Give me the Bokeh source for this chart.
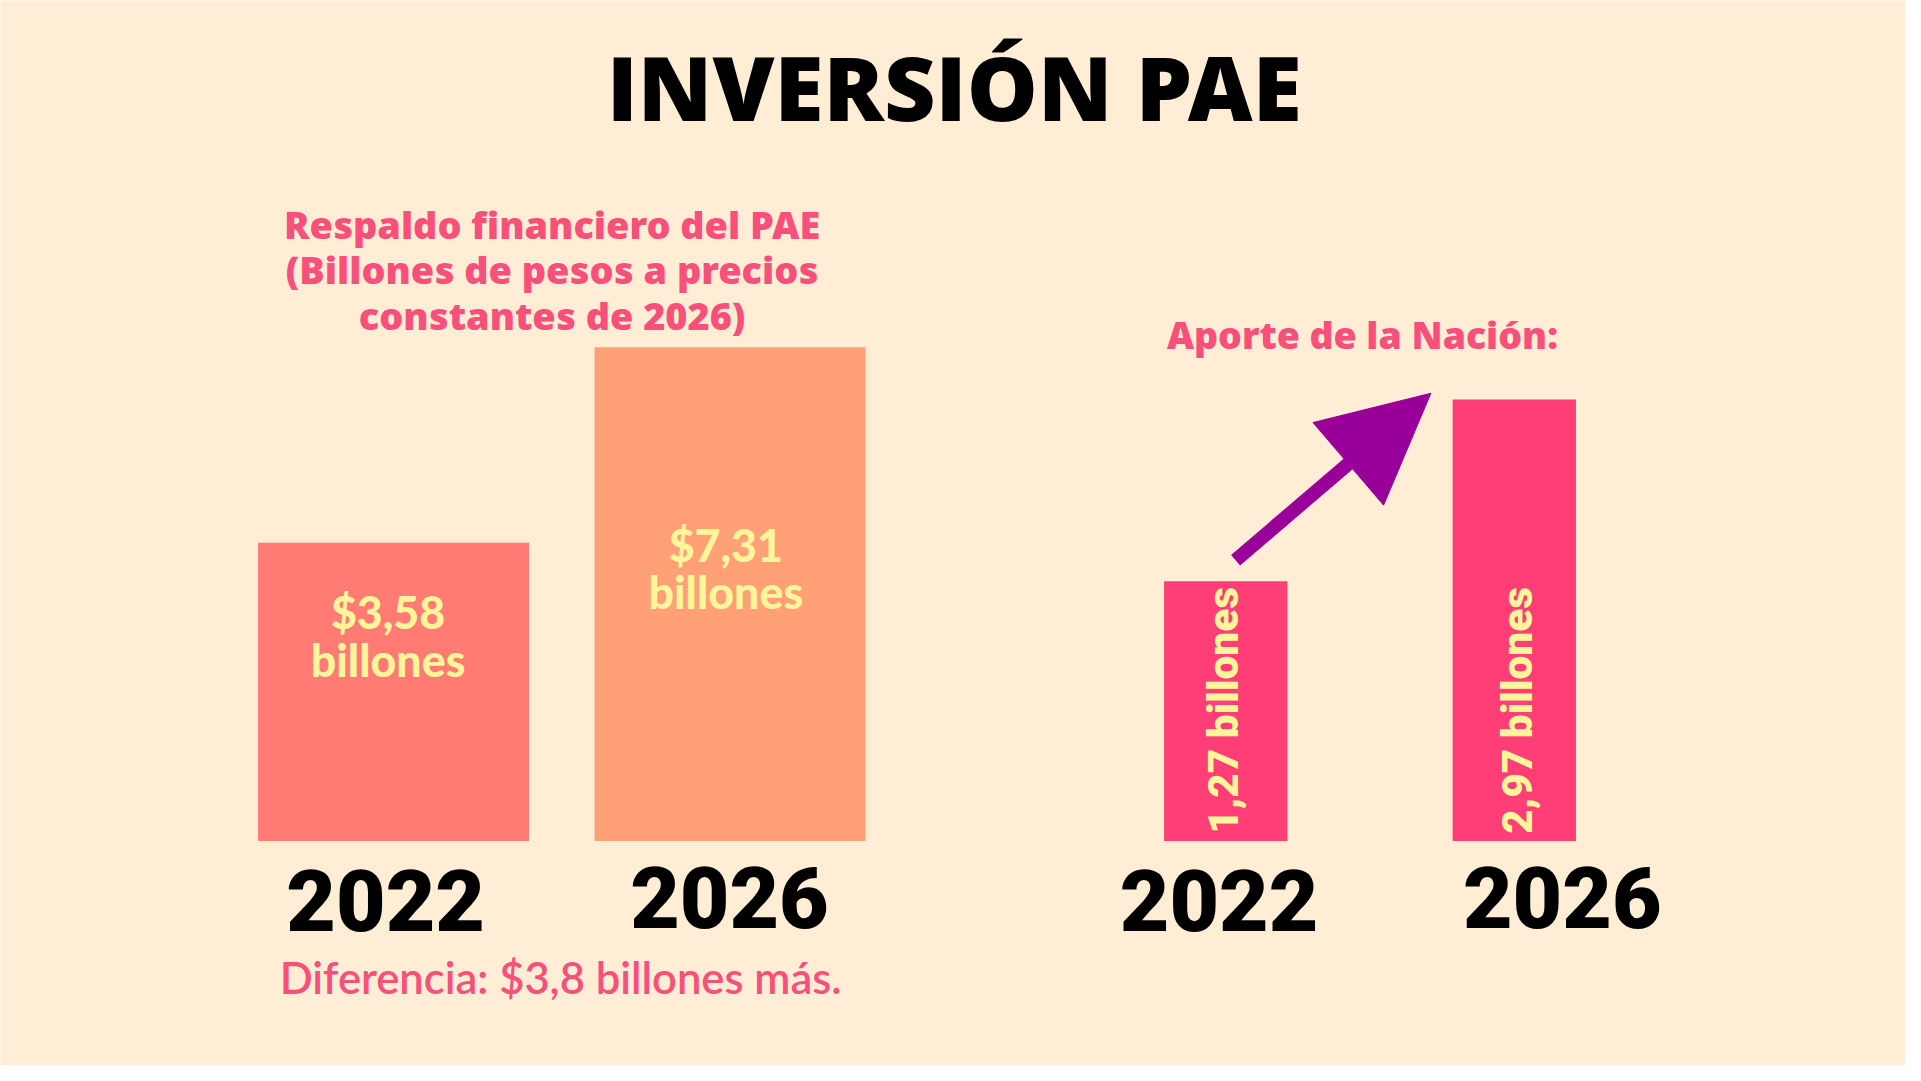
from bokeh.plotting import figure
from bokeh.models import Range1d, Arrow, NormalHead
from bokeh.core.properties import value
from bokeh.embed import file_html
from bokeh.resources import INLINE

# datos
anios = ["2022", "2026"]
respaldo_pae = [3.58, 7.31]      # billones de pesos constantes de 2026
aporte_nacion = [1.27, 2.97]     # billones
titulo = "INVERSIÓN PAE"
subtitulo = ["Respaldo financiero del PAE", "(Billones de pesos a precios", "constantes de 2026)"]
titulo_aporte = "Aporte de la Nación:"
diferencia = "Diferencia: $3,8 billones más."

# lienzo: unidades de la imagen de referencia (1568 x 882)
W, H = 1905, 1065
AW, AH = 1568, 882
k = H / AH

FONDO = "#FFEDD5"
ROSA = "#F94F7B"
AMARILLO = "#FFF59A"

p = figure(width=W, height=H, x_range=Range1d(0, AW), y_range=Range1d(0, AH),
           x_axis_location=None, y_axis_location=None, toolbar_location=None,
           output_backend="svg", min_border=0)
p.grid.visible = False
p.outline_line_color = None
p.background_fill_color = FONDO
p.border_fill_color = FONDO

def fy(d):
    # posición vertical desde arriba -> coordenada del lienzo
    return AH - d

base_px = fy(696)

# escala de cada grafica (las barras no estan a escala desde cero)
def escalas(nombre, c0, c1, ppu, piso):
    u = c1 - c0
    p.extra_x_ranges[nombre] = Range1d(-c0 / u, (AW - c0) / u)
    ini = piso - base_px / ppu
    p.extra_y_ranges[nombre] = Range1d(ini, ini + AH / ppu)
    return u

u_izq = escalas("izq", 323.5, 600.5, 43.4, -2.11)
u_der = escalas("der", 1008.5, 1246.0, 88.5, -1.16)

idx = list(range(len(anios)))

# barras izquierda
p.vbar(x=idx, top=respaldo_pae, bottom=-2.11, width=223 / u_izq,
       fill_color=["#FF7B74", "#FFA077"], line_color=None,
       x_range_name="izq", y_range_name="izq")
# barras derecha
p.vbar(x=idx, top=aporte_nacion, bottom=-1.16, width=101.5 / u_der,
       fill_color="#FF3D77", line_color=None,
       x_range_name="der", y_range_name="der")

# flecha
p.add_layout(Arrow(end=NormalHead(size=90 * k, fill_color="#990099", line_color="#990099"),
                   x_start=0.034, y_start=aporte_nacion[0] + 0.197,
                   x_end=0.711, y_end=aporte_nacion[1] + 0.059,
                   line_color="#990099", line_width=11.5 * k,
                   x_range_name="der", y_range_name="der"))

def txt(x, y, s, size, color, font="Lato", style="normal", align="center", angle=0.0, baseline="alphabetic"):
    # y = linea base deseada; el svg baja el texto ~1/3 de em
    if baseline == "alphabetic":
        y = y - 0.33 * size
    p.text(x=[x], y=[fy(y)], text=[s], text_font=value(font), text_font_style=style,
           text_font_size=f"{size * k:.1f}px", text_color=color, text_align=align,
           text_baseline=baseline, angle=angle)

# titulo
txt(785, 95, titulo, 74, "black", font="Open Sans ExtraBold")

# subtitulo izquierda
for i, linea in enumerate(subtitulo):
    txt(454, 195.5 + 38 * i, linea, 31.3, ROSA, font="Open Sans ExtraBold")

# etiquetas dentro de barras izquierda
etq_x = [319, 597]
etq_y = [519, 463]
for v, x, y in zip(respaldo_pae, etq_x, etq_y):
    txt(x, y, "$" + f"{v:.2f}".replace(".", ","), 37, AMARILLO, font="Lato Black")
    txt(x, y + 39, "billones", 37, AMARILLO, font="Lato Black")

# anios
for a, x, y in zip(anios + anios, [317, 600, 1003, 1285.5], [769, 766.5, 769, 766.5]):
    txt(x, y, a, 71, "black", font="Roboto Black")

txt(461, 821, diferencia, 36, ROSA, font="Lato Semibold")

# derecha
txt(1121, 287, titulo_aporte, 31, ROSA, font="Open Sans ExtraBold")
for v, x in zip(aporte_nacion, [1006.5, 1248.5]):
    txt(x, 690, f"{v:.2f}".replace(".", ",") + " billones", 35, AMARILLO, font="Roboto Black",
        align="left", angle=1.5708, baseline="middle")

open("out.html", "w").write(file_html(p, INLINE))
